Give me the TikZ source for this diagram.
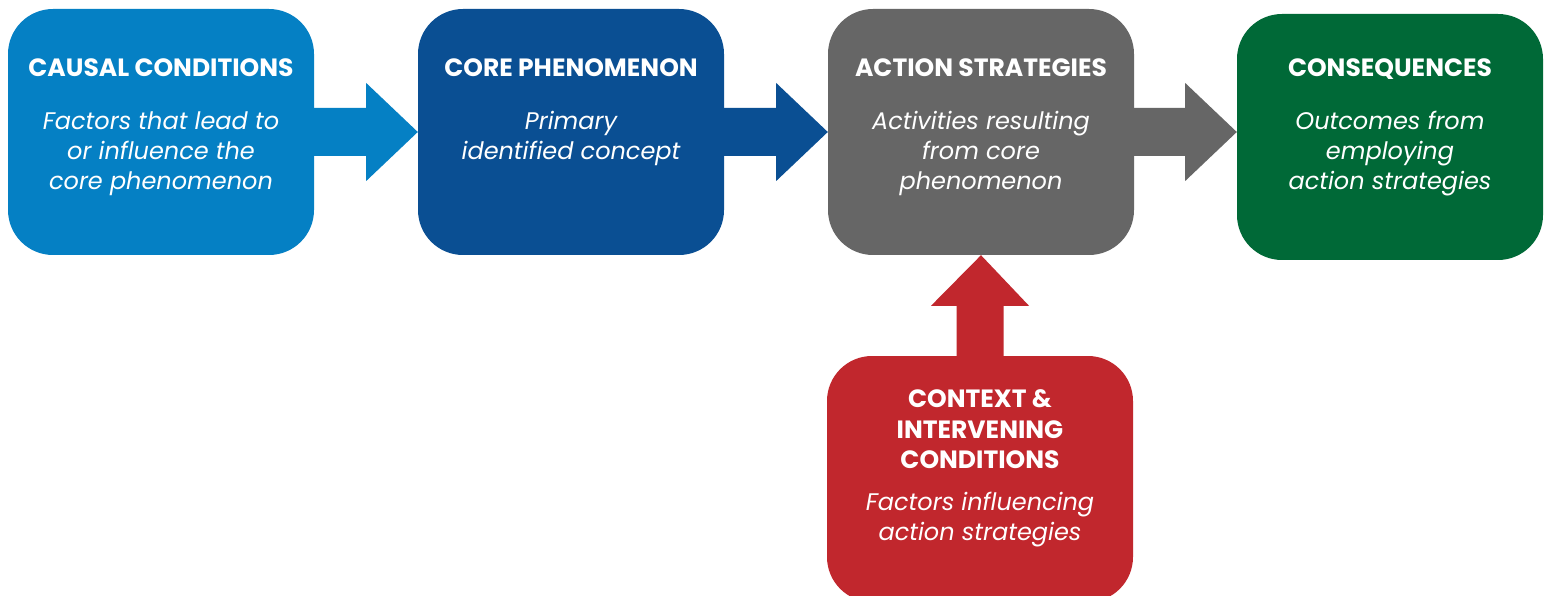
\documentclass[tikz,border=0pt]{standalone}
\usepackage{fontspec}
\setmainfont{Poppins}
\usetikzlibrary{calc}
\definecolor{cblue}{HTML}{0580C4}
\definecolor{cdark}{HTML}{0A4F93}
\definecolor{cgray}{HTML}{666666}
\definecolor{cgreen}{HTML}{006937}
\definecolor{cred}{HTML}{C1272D}
\tikzset{
  box/.style={rounded corners=45pt, minimum width=306pt, minimum height=246pt, inner sep=0pt, draw=none},
  ttl/.style={anchor=base, align=center, text=white, inner sep=0pt, font=\fontsize{25}{30.5}\selectfont\bfseries},
  dsc/.style={anchor=base, align=center, text=white, inner sep=0pt, font=\fontsize{24}{30}\selectfont\itshape},
}
\begin{document}
\begin{tikzpicture}[x=1pt,y=-1pt]
\clip (0,0) rectangle (1548,596);
\fill[white] (0,0) rectangle (1548,596);
% boxes
\node[box, fill=cblue] (b1) at (161,132) {};
\node[box, fill=cdark] (b2) at (571,132) {};
\node[box, fill=cgray] (b3) at (981,132) {};
\node[box, fill=cgreen] (b4) at (1390,137) {};
\node[box, fill=cred] (b5) at (980,479) {};
% arrows
\fill[cblue] ($(b1.east)+(0,-24)$) -- ++(52,0) -- ++(0,-25) -- (b2.west) -- ($(b1.east)+(52,49)$) -- ++(0,-25) -- ($(b1.east)+(0,24)$) -- cycle;
\fill[cdark] ($(b2.east)+(0,-24)$) -- ++(52,0) -- ++(0,-25) -- (b3.west) -- ($(b2.east)+(52,49)$) -- ++(0,-25) -- ($(b2.east)+(0,24)$) -- cycle;
\fill[cgray] ($(b3.east)+(0,-24)$) -- ++(51,0) -- ++(0,-25) -- (b4.west |- b3.east) -- ($(b3.east)+(51,49)$) -- ++(0,-25) -- ($(b3.east)+(0,24)$) -- cycle;
\fill[cred] ($(b5.north)+(-23.5,1)$) -- ++(0,-51) -- ++(-25.5,0) -- (b3.south) -- ($(b5.north)+(49,-50)$) -- ++(-25.5,0) -- ++(0,51) -- cycle;
% texts
\node[ttl] (t1) at ($(b1.north)+(0,68)$) {CAUSAL CONDITIONS};
\node[dsc] (d1) at ($(b1.north)+(0,181)$) {Factors that lead to\\or influence the\\core phenomenon};
\node[ttl] (t2) at ($(b2.north)+(0,68)$) {CORE PHENOMENON};
\node[dsc] (d2) at ($(b2.north)+(0,151)$) {Primary\\identified concept};
\node[ttl] (t3) at ($(b3.north)+(0,68)$) {ACTION STRATEGIES};
\node[dsc] (d3) at ($(b3.north)+(0,181)$) {Activities resulting\\from core\\phenomenon};
\node[ttl] (t4) at ($(b4.north)+(0,63)$) {CONSEQUENCES};
\node[dsc] (d4) at ($(b4.north)+(0,176)$) {Outcomes from\\employing\\action strategies};
\node[ttl] (t5) at ($(b5.north)+(0,113)$) {CONTEXT \&\\INTERVENING\\CONDITIONS};
\node[dsc] (d5) at ($(b5.north)+(0,185)$) {Factors influencing\\action strategies};
\end{tikzpicture}
\end{document}
